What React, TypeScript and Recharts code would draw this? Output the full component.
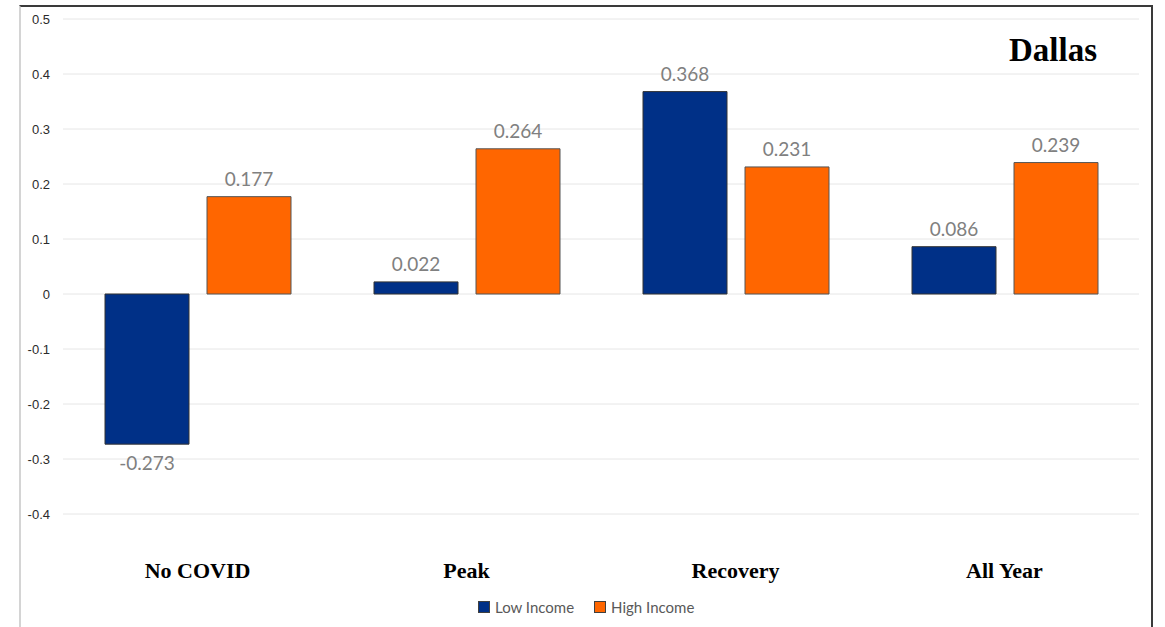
import { BarChart, Bar, XAxis, YAxis, CartesianGrid, Legend, LabelList } from 'recharts'

const periods = ['No COVID', 'Peak', 'Recovery', 'All Year']
const lowIncome = [-0.273, 0.022, 0.368, 0.086]
const highIncome = [0.177, 0.264, 0.231, 0.239]
const yTicks = [-0.4, -0.3, -0.2, -0.1, 0, 0.1, 0.2, 0.3, 0.4, 0.5]
const seriesNames = ['Low Income', 'High Income']

const data = periods.map((period, i) => ({ period, low: lowIncome[i], high: highIncome[i] }))

const LOW_COLOR = '#003087'
const HIGH_COLOR = '#ff6600'

// value above positive bars, below negative ones
function ValueLabel(props: any) {
  const vb = props.viewBox ?? props
  const x = vb.x ?? props.x
  const y = vb.y ?? props.y
  const w = vb.width ?? props.width
  const h = vb.height ?? props.height
  const value = props.value as number
  const top = Math.min(y, y + h)
  const bottom = Math.max(y, y + h)
  const ty = value < 0 ? bottom + 26 : top - 11
  return (
    <text x={x + w / 2} y={ty} textAnchor="middle" fontFamily="Lato" fontSize={19} fill="#808080">
      {value.toFixed(3)}
    </text>
  )
}

function PeriodTick({ x, y, payload }: any) {
  return (
    <text x={x} y={y + 56} textAnchor="middle" fontFamily="Liberation Serif" fontWeight="bold" fontSize={22} fill="#000">
      {payload.value}
    </text>
  )
}

function LegendRow({ payload }: any) {
  const items = [...(payload ?? [])].sort(
    (a: any, b: any) => seriesNames.indexOf(a.value) - seriesNames.indexOf(b.value),
  )
  return (
    <div style={{ display: 'flex', alignItems: 'center', height: 20, fontFamily: 'Lato', fontSize: 15, color: '#595959' }}>
      {items.map((p: any, i: number) => (
        <div key={p.value} style={{ display: 'flex', alignItems: 'center', marginLeft: i === 0 ? 0 : 20 }}>
          <span style={{ display: 'inline-block', width: 10, height: 10, background: p.color, border: '1px solid #404040', marginRight: 5 }} />
          <span>{p.value}</span>
        </div>
      ))}
    </div>
  )
}

export default function App() {
  return (
    <div style={{ position: 'absolute', left: 0, top: 0, width: 1165, height: 627, background: '#fff' }}>
      <div
        style={{
          position: 'absolute', left: 19, top: 5, width: 1134, height: 622, boxSizing: 'border-box',
          borderTop: '2px solid #3a3a3a', borderRight: '2px solid #3a3a3a', borderLeft: '2px solid #d4d4d4',
        }}
      />
      <BarChart
        width={1165}
        height={627}
        data={data}
        margin={{ top: 19, right: 26, left: 0, bottom: 23 }}
        barSize={84}
        barGap={18}
      >
        <CartesianGrid vertical={false} stroke="#e6e6e6" />
        <XAxis dataKey="period" axisLine={false} tickLine={false} height={70} tick={<PeriodTick />} interval={0} />
        <YAxis
          domain={[-0.4, 0.5]}
          ticks={yTicks}
          width={63}
          axisLine={false}
          tickLine={false}
          tickMargin={7}
          tickFormatter={(v: number) => (v === 0 ? '0' : v.toFixed(1))}
          tick={{ fontSize: 13, fontFamily: 'Liberation Sans', fill: '#2b2b2b' }}
        />
        <Legend verticalAlign="bottom" content={<LegendRow />} wrapperStyle={{ top: 597, left: 478, width: 'auto' }} />
        <Bar dataKey="low" name="Low Income" fill={LOW_COLOR} stroke="#333" strokeWidth={1} isAnimationActive={false}>
          <LabelList dataKey="low" content={<ValueLabel />} />
        </Bar>
        <Bar dataKey="high" name="High Income" fill={HIGH_COLOR} stroke="#555" strokeWidth={1} isAnimationActive={false}>
          <LabelList dataKey="high" content={<ValueLabel />} />
        </Bar>
      </BarChart>
      <div
        style={{
          position: 'absolute', left: 1009, top: 30, fontFamily: 'Liberation Serif', fontWeight: 'bold',
          fontSize: 33, lineHeight: '40px', color: '#000', zIndex: 2,
        }}
      >
        Dallas
      </div>
    </div>
  )
}
